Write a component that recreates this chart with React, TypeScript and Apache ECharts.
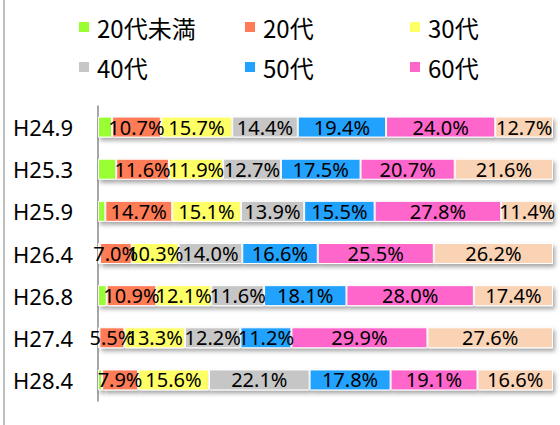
import React, { useEffect, useRef } from "react";
import * as echarts from "echarts";

const categories = ["H24.9", "H25.3", "H25.9", "H26.4", "H26.8", "H27.4", "H28.4"];
const seriesNames = ["20代未満", "20代", "30代", "40代", "50代", "60代", "70代以上"];
const under20 = [3.1, 4.0, 1.6, 0.4, 1.9, 0.3, 0.9];
const age20 = [10.7, 11.6, 14.7, 7.0, 10.9, 5.5, 7.9];
const age30 = [15.7, 11.9, 15.1, 10.3, 12.1, 13.3, 15.6];
const age40 = [14.4, 12.7, 13.9, 14.0, 11.6, 12.2, 22.1];
const age50 = [19.4, 17.5, 15.5, 16.6, 18.1, 11.2, 17.8];
const age60 = [24.0, 20.7, 27.8, 25.5, 28.0, 29.9, 19.1];
const age70 = [12.7, 21.6, 11.4, 26.2, 17.4, 27.6, 16.6];
const legendNames = ["20代未満", "20代", "30代", "40代", "50代", "60代"];

const colors = ["#99FF33", "#FF7B57", "#FFFF66", "#C6C6C6", "#22A2FF", "#FF66CC", "#FAD3B4"];

export default function App() {
  const ref = useRef<HTMLDivElement>(null);
  useEffect(() => {
    document.body.style.margin = "0";
    const chart = echarts.init(ref.current!, null, { renderer: "svg" });
    const allData = [under20, age20, age30, age40, age50, age60, age70];
    const cjk = "'Noto Sans CJK JP', 'Noto Sans', sans-serif";
    const latin = "'Noto Sans', sans-serif";
    const legendLefts = [77, 243, 408];
    const legendTops = [14, 54];
    const legends = legendNames.map((name, i) => ({
      data: [name],
      left: legendLefts[i % 3],
      top: legendTops[Math.floor(i / 3)],
      padding: 0,
      icon: "rect",
      itemWidth: 12,
      itemHeight: 12,
      textStyle: { fontSize: 24, color: "#000", fontFamily: cjk, lineHeight: 26, padding: [0, 0, 0, 2] },
      selectedMode: false,
    }));
    chart.setOption({
      animation: false,
      color: colors,
      legend: legends,
      grid: { left: 98, right: 7, top: 106, height: 295, containLabel: false },
      xAxis: { type: "value", min: 0, max: 100, show: false },
      yAxis: {
        type: "category",
        data: categories,
        inverse: true,
        axisTick: { show: false },
        axisLine: { lineStyle: { color: "#8a8a8a", width: 1.5 } },
        axisLabel: { fontSize: 22, color: "#000", fontFamily: latin, margin: 25 },
      },
      graphic: [
        { type: "line", shape: { x1: 4, y1: 0, x2: 4, y2: 425 }, style: { stroke: "#aaaaaa", lineWidth: 1.5 } },
      ],
      series: seriesNames.map((name, i) => ({
        name,
        type: "bar",
        stack: "total",
        barWidth: 21,
        data: allData[i],
        itemStyle: {
          borderColor: "#fff",
          borderWidth: 1,
          shadowColor: "rgba(0,0,0,0.35)",
          shadowBlur: 4,
          shadowOffsetX: 2,
          shadowOffsetY: 3,
        },
        label: {
          show: i !== 0,
          position: "inside",
          fontSize: 20,
          color: "#000",
          fontFamily: latin,
          formatter: (p: any) => Number(p.value).toFixed(1) + "%",
        },
      })),
    });
    return () => chart.dispose();
  }, []);
  return <div ref={ref} style={{ width: 560, height: 425 }} />;
}
